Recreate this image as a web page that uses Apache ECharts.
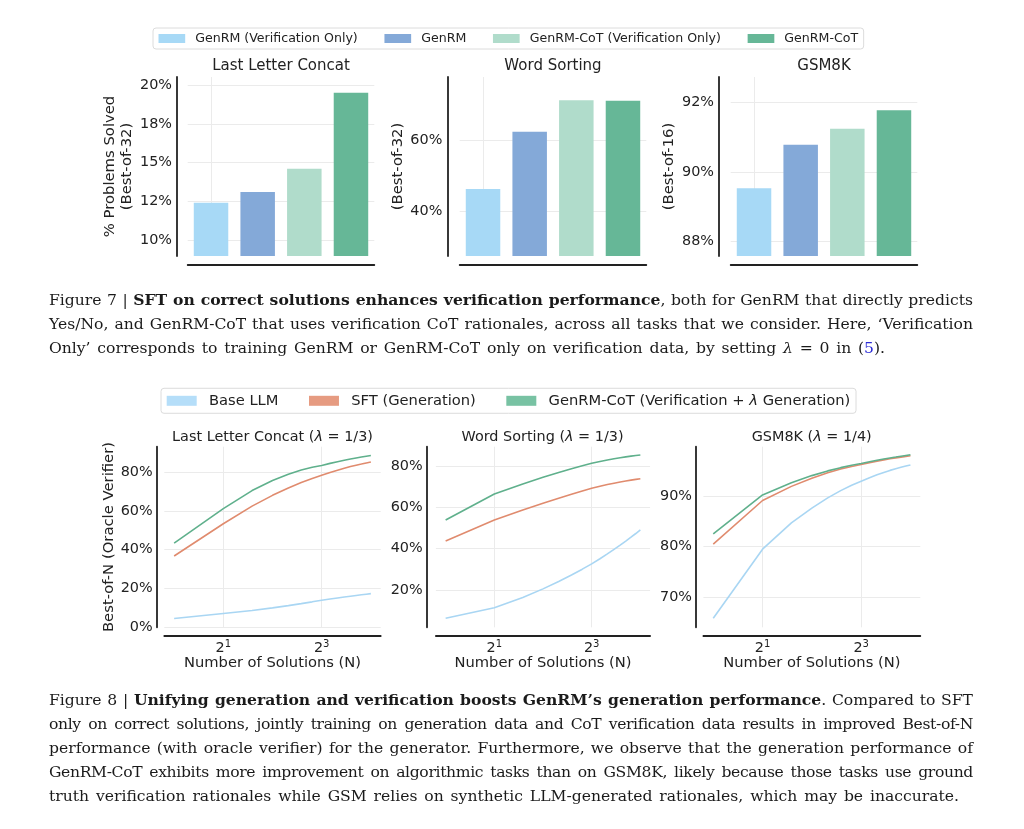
<!DOCTYPE html>
<html><head><meta charset="utf-8">
<script src="https://cdn.jsdelivr.net/npm/echarts@6/dist/echarts.min.js"></script>
<style>
html,body{margin:0;padding:0;background:#fff;}
#chart{position:absolute;left:0;top:0;width:1024px;height:829px;}
.cap{position:absolute;left:49px;width:924px;font-family:'DejaVu Serif','Liberation Serif',serif;font-size:15.6px;line-height:24px;color:#1a1a1a;text-align:justify;text-align-last:justify;}
.tight{letter-spacing:-0.35px;}
.ref{color:#2b2bd6;}
</style></head><body>
<div id="chart"></div>
<div class="cap" style="top:288px">Figure 7 | <b>SFT on correct solutions enhances verification performance</b>, both for GenRM that directly predicts</div>
<div class="cap" style="top:312px">Yes/No, and GenRM-CoT that uses verification CoT rationales, across all tasks that we consider. Here, ‘Verification</div>
<div class="cap" style="top:336px;width:836px">Only’ corresponds to training GenRM or GenRM-CoT only on verification data, by setting <i>λ</i> = 0 in (<span class="ref">5</span>).</div>
<div class="cap" style="top:688px">Figure 8 | <b>Unifying generation and verification boosts GenRM’s generation performance</b>. Compared to SFT</div>
<div class="cap tight" style="top:712px">only on correct solutions, jointly training on generation data and CoT verification data results in improved Best-of-N</div>
<div class="cap" style="top:736px">performance (with oracle verifier) for the generator. Furthermore, we observe that the generation performance of</div>
<div class="cap tight" style="top:760px">GenRM-CoT exhibits more improvement on algorithmic tasks than on GSM8K, likely because those tasks use ground</div>
<div class="cap" style="top:784px;width:910px">truth verification rationales while GSM relies on synthetic LLM-generated rationales, which may be inaccurate.</div>
<script>
// ---------- data ----------
const topCategories = ['GenRM (Verification Only)', 'GenRM', 'GenRM-CoT (Verification Only)', 'GenRM-CoT'];
const topTitles = ['Last Letter Concat', 'Word Sorting', 'GSM8K'];
const lastLetterBars = [12.4, 13.1, 14.6, 19.5];
const wordSortingBars = [46.3, 62.3, 71.1, 71.0];
const gsm8kBars = [89.54, 90.79, 91.25, 91.78];
const topTickValues = [[10, 12.5, 15, 17.5, 20], [40, 60], [88, 90, 92]];
const topTickLabels = [['10%', '12%', '15%', '18%', '20%'], ['40%', '60%'], ['88%', '90%', '92%']];
const topYNames = ['% Problems Solved\n(Best-of-32)', '(Best-of-32)', '(Best-of-16)'];

const lineNames = ['Base LLM', 'SFT (Generation)', 'GenRM-CoT (Verification + λ Generation)'];
const bottomTitles = ['Last Letter Concat ({i|λ} = 1/3)', 'Word Sorting ({i|λ} = 1/3)', 'GSM8K ({i|λ} = 1/4)'];
const nValues = [1, 2, 3, 4, 5, 6, 7, 8, 9, 10, 11, 12, 13, 14, 15, 16];
const xTickValues = [2, 8];
const lastLetterBase = [4.3, 6.9, 8.46, 9.8, 10.97, 12.01, 12.94, 13.8, 14.42, 14.96, 15.44, 15.86, 16.24, 16.59, 16.91, 17.2];
const lastLetterSFT = [36.7, 53.4, 62.5, 68.1, 71.9, 74.7, 76.8, 78.5, 79.9, 81.1, 82.1, 83.0, 83.7, 84.3, 84.9, 85.4];
const lastLetterCoT = [43.4, 61.2, 70.57, 75.8, 79.05, 81.19, 82.63, 83.6, 84.66, 85.54, 86.28, 86.91, 87.45, 87.93, 88.34, 88.7];
const wordSortingBase = [6.3, 11.4, 16.36, 20.5, 24.07, 27.21, 30.03, 32.6, 35.09, 37.41, 39.6, 41.67, 43.63, 45.5, 47.29, 49.0];
const wordSortingSFT = [43.7, 53.8, 58.64, 61.9, 64.34, 66.27, 67.85, 69.2, 70.17, 70.98, 71.65, 72.22, 72.7, 73.12, 73.49, 73.8];
const wordSortingCoT = [53.8, 66.4, 71.3, 74.5, 76.83, 78.64, 80.09, 81.3, 82.18, 82.89, 83.48, 83.98, 84.39, 84.75, 85.05, 85.3];
const gsm8kBase = [65.9, 79.5, 84.7, 87.6, 89.61, 91.04, 92.1, 92.9, 93.59, 94.16, 94.63, 95.03, 95.36, 95.65, 95.89, 96.1];
const gsm8kSFT = [80.5, 89.1, 91.88, 93.5, 94.55, 95.29, 95.81, 96.2, 96.56, 96.86, 97.1, 97.32, 97.5, 97.65, 97.78, 97.9];
const gsm8kCoT = [82.5, 90.2, 92.59, 94.0, 94.93, 95.57, 96.05, 96.4, 96.74, 97.02, 97.27, 97.48, 97.66, 97.83, 97.97, 98.1];
const bottomTickValues = [[0, 20, 40, 60, 80], [20, 40, 60, 80], [70, 80, 90]];
const bottomYNames = ['Best-of-N (Oracle Verifier)', '', ''];

// ---------- styling / layout ----------
const FONT = 'DejaVu Sans';
const TXT = '#222';
const GRIDC = '#ebebeb';
const barColors = ['#a7d9f6', '#84a9d8', '#b0dccb', '#66b797'];
const lineColors = ['#a9d6f3', '#e08b6e', '#5fb08c'];
const lineSwatch = ['#b5def9', '#e69b81', '#78c2a3'];
const topBars = [lastLetterBars, wordSortingBars, gsm8kBars];
const bottomLines = [[lastLetterBase, lastLetterSFT, lastLetterCoT], [wordSortingBase, wordSortingSFT, wordSortingCoT], [gsm8kBase, gsm8kSFT, gsm8kCoT]];

const topGridLeft = [187.7, 459.7, 730.7];
const topYOffset = [10.7, 12.4, 11.7];
const topYRange = [[8.97, 20.52], [27.6, 77.6], [87.59, 92.74]];
const topTitleX = [281, 553, 824];
const botGrid = [{ left: 164.3, width: 216.4 }, { left: 435.9, width: 214.2 }, { left: 703.4, width: 216.9 }];
const botYRange = [[-0.25, 93.3], [1.9, 89.3], [64.1, 99.7]];
const botYOffset = [7.6, 9.2, 7.4];
const botTitleX = [272.5, 542.5, 811.7];

const grid = [], xAxis = [], yAxis = [], series = [], title = [];

for (let t = 0; t < 3; t++) {
  grid.push({ left: topGridLeft[t], top: 77, width: 186.6, height: 179 });
  title.push({ text: topTitles[t], left: topTitleX[t], top: 57, textAlign: 'center', padding: 0,
    textStyle: { fontFamily: FONT, fontSize: 15, fontWeight: 'normal', color: TXT, lineHeight: 18 } });
  xAxis.push({ type: 'category', gridIndex: t, data: topCategories, offset: 9,
    axisLine: { show: true, onZero: false, lineStyle: { color: TXT, width: 1.8 } },
    axisTick: { show: false }, axisLabel: { show: false },
    splitLine: { show: true, alignWithLabel: true, lineStyle: { color: GRIDC, width: 1 } } });
  const lbls = topTickLabels[t], vals = topTickValues[t];
  yAxis.push({ type: 'value', gridIndex: t, min: topYRange[t][0], max: topYRange[t][1], offset: topYOffset[t],
    name: topYNames[t], nameLocation: 'middle', nameGap: 41,
    nameTextStyle: { fontFamily: FONT, fontSize: 14.8, color: TXT, lineHeight: 17 },
    axisLine: { show: true, lineStyle: { color: TXT, width: 1.8 } },
    axisTick: { show: false, customValues: vals },
    axisLabel: { customValues: vals, margin: 5, fontFamily: FONT, fontSize: 14.4, color: TXT,
      formatter: v => { const i = vals.indexOf(v); return i >= 0 ? lbls[i] : ''; } },
    splitLine: { show: true, lineStyle: { color: GRIDC, width: 1 } } });
  for (let c = 0; c < 4; c++) {
    series.push({ type: 'bar', name: topCategories[c], xAxisIndex: t, yAxisIndex: t,
      data: topCategories.map((_, k) => (k === c ? topBars[t][c] : '-')),
      barWidth: 34.5, barGap: '-100%', itemStyle: { color: barColors[c] } });
  }
}

for (let t = 0; t < 3; t++) {
  const gi = 3 + t;
  grid.push({ left: botGrid[t].left, width: botGrid[t].width, top: 446.7, height: 180.6 });
  title.push({ text: bottomTitles[t], left: botTitleX[t], top: 428.5, textAlign: 'center', padding: 0,
    textStyle: { fontFamily: FONT, fontSize: 14.4, fontWeight: 'normal', color: TXT, lineHeight: 18,
      rich: { i: { fontFamily: FONT, fontSize: 14.4, fontStyle: 'italic', color: TXT } } } });
  xAxis.push({ type: 'log', logBase: 2, gridIndex: gi, min: Math.pow(2, -0.2), max: Math.pow(2, 4.2), offset: 8.7,
    name: 'Number of Solutions (N)', nameLocation: 'middle', nameGap: 18,
    nameTextStyle: { fontFamily: FONT, fontSize: 14.7, color: TXT },
    axisLine: { show: true, onZero: false, lineStyle: { color: TXT, width: 1.8 } },
    axisTick: { show: false, customValues: xTickValues },
    axisLabel: { customValues: xTickValues, margin: 3, fontFamily: FONT, fontSize: 14.4, color: TXT,
      formatter: v => '{b|2}{s|' + Math.round(Math.log2(v)) + '}',
      rich: { b: { fontFamily: FONT, fontSize: 14.4, color: TXT }, s: { fontFamily: FONT, fontSize: 10, color: TXT, padding: [0, 0, 8, 0] } } },
    splitLine: { show: true, lineStyle: { color: GRIDC, width: 1 } } });
  const vals = bottomTickValues[t];
  yAxis.push({ type: 'value', gridIndex: gi, min: botYRange[t][0], max: botYRange[t][1], offset: botYOffset[t],
    name: bottomYNames[t], nameLocation: 'middle', nameGap: 38.5,
    nameTextStyle: { fontFamily: FONT, fontSize: 14.8, color: TXT },
    axisLine: { show: true, lineStyle: { color: TXT, width: 1.8 } },
    axisTick: { show: false, customValues: vals },
    axisLabel: { customValues: vals, margin: 4, fontFamily: FONT, fontSize: 14.4, color: TXT, formatter: v => v + '%' },
    splitLine: { show: true, lineStyle: { color: GRIDC, width: 1 } } });
  for (let s = 0; s < 3; s++) {
    series.push({ type: 'line', name: lineNames[s], xAxisIndex: gi, yAxisIndex: gi,
      data: nValues.map((n, i) => [n, bottomLines[t][s][i]]),
      showSymbol: false, symbol: 'none', smooth: false,
      itemStyle: { color: lineColors[s] }, lineStyle: { color: lineColors[s], width: 1.6 } });
  }
}

const chart = echarts.init(document.getElementById('chart'), null, { renderer: 'canvas' });
chart.setOption({
  animation: false,
  backgroundColor: '#fff',
  title: title,
  legend: [
    { left: 153, top: 28, data: topCategories, icon: 'rect', itemWidth: 26.7, itemHeight: 9, itemGap: 26.7,
      padding: [4, 5.5], borderColor: '#dcdcdc', borderWidth: 1, borderRadius: 3, backgroundColor: '#fff',
      textStyle: { fontFamily: FONT, fontSize: 12.6, color: TXT, padding: [0, 0, 0, 5], lineHeight: 13 } },
    { left: 161, top: 388.3, icon: 'rect', itemWidth: 30, itemHeight: 10, itemGap: 30.5,
      data: lineNames.map((n, i) => ({ name: n, itemStyle: { color: lineSwatch[i] } })),
      padding: [5, 5.7], borderColor: '#dcdcdc', borderWidth: 1, borderRadius: 3, backgroundColor: '#fff',
      formatter: n => n.replace('λ', '{i|λ}'),
      textStyle: { fontFamily: FONT, fontSize: 14.7, color: TXT, padding: [0, 0, 0, 7.3], lineHeight: 15,
        rich: { i: { fontFamily: FONT, fontSize: 14.7, fontStyle: 'italic', color: TXT } } } }
  ],
  grid: grid,
  xAxis: xAxis,
  yAxis: yAxis,
  series: series
});
</script>
</body></html>
